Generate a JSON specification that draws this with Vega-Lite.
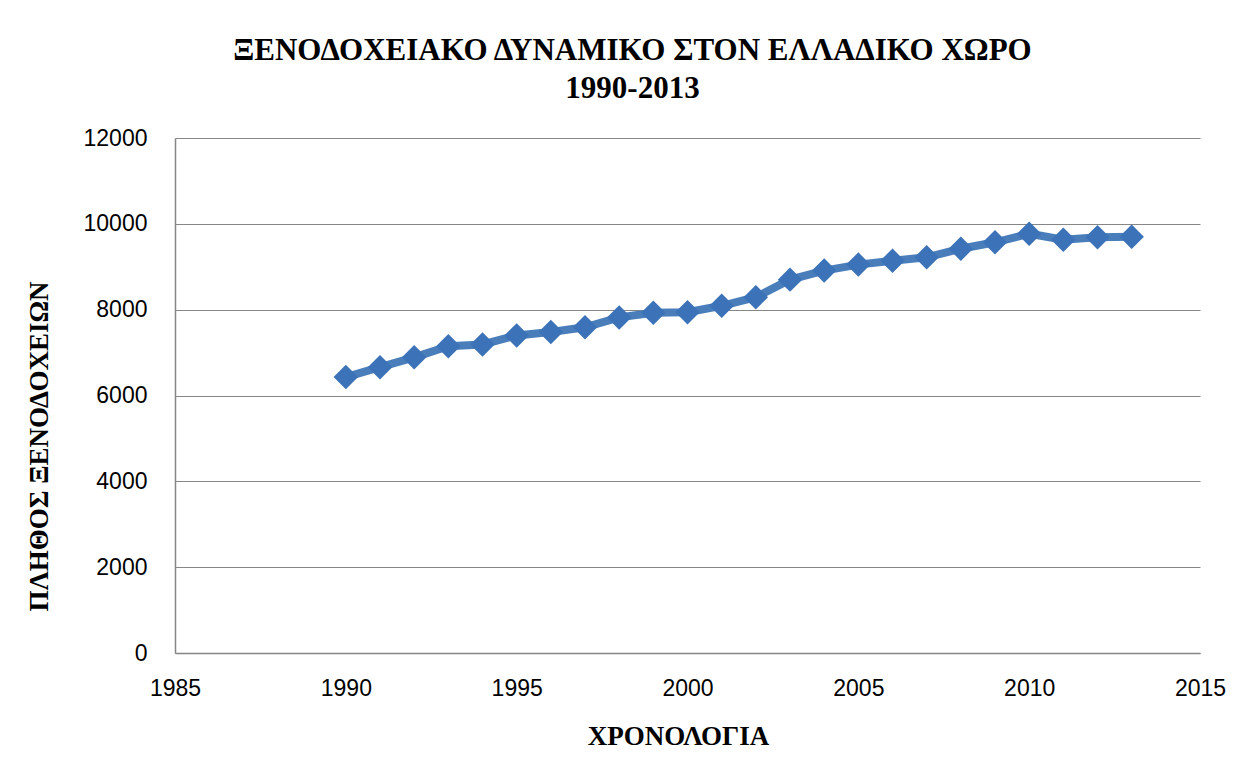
{
  "$schema": "https://vega.github.io/schema/vega-lite/v6.json",
  "width": 1025,
  "height": 515,
  "autosize": {"type": "none"},
  "padding": {"left": 175, "top": 138, "right": 47, "bottom": 116},
  "background": "white",
  "title": {
    "text": ["ΞΕΝΟΔΟΧΕΙΑΚΟ ΔΥΝΑΜΙΚΟ ΣΤΟΝ ΕΛΛΑΔΙΚΟ ΧΩΡΟ", "1990-2013"],
    "font": "Liberation Serif",
    "fontSize": 31,
    "fontWeight": "bold",
    "color": "black",
    "anchor": "middle",
    "dx": -55,
    "offset": 22,
    "lineHeight": 38
  },
  "data": {
    "values": [
      {"year": 1990, "hotels": 6430},
      {"year": 1991, "hotels": 6660},
      {"year": 1992, "hotels": 6890},
      {"year": 1993, "hotels": 7150},
      {"year": 1994, "hotels": 7190},
      {"year": 1995, "hotels": 7400},
      {"year": 1996, "hotels": 7480},
      {"year": 1997, "hotels": 7590},
      {"year": 1998, "hotels": 7820},
      {"year": 1999, "hotels": 7930},
      {"year": 2000, "hotels": 7940},
      {"year": 2001, "hotels": 8090},
      {"year": 2002, "hotels": 8290},
      {"year": 2003, "hotels": 8700},
      {"year": 2004, "hotels": 8910},
      {"year": 2005, "hotels": 9050},
      {"year": 2006, "hotels": 9140},
      {"year": 2007, "hotels": 9220},
      {"year": 2008, "hotels": 9420},
      {"year": 2009, "hotels": 9570},
      {"year": 2010, "hotels": 9770},
      {"year": 2011, "hotels": 9630},
      {"year": 2012, "hotels": 9690},
      {"year": 2013, "hotels": 9700}
    ]
  },
  "encoding": {
    "x": {
      "field": "year",
      "type": "quantitative",
      "scale": {"domain": [1985, 2015], "nice": false, "zero": false},
      "axis": {
        "title": "ΧΡΟΝΟΛΟΓΙΑ",
        "values": [1985, 1990, 1995, 2000, 2005, 2010, 2015],
        "format": "d",
        "grid": false,
        "ticks": false,
        "domainColor": "#868686",
        "domainWidth": 1.5,
        "labelFont": "Liberation Sans",
        "labelFontSize": 23,
        "labelColor": "black",
        "labelPadding": 24,
        "labelFlush": false,
        "titleFont": "Liberation Serif",
        "titleFontSize": 27,
        "titleFontWeight": "bold",
        "titleColor": "black",
        "titlePadding": 23,
        "titleX": 503
      }
    },
    "y": {
      "field": "hotels",
      "type": "quantitative",
      "scale": {"domain": [0, 12000], "nice": false},
      "axis": {
        "title": "ΠΛΗΘΟΣ ΞΕΝΟΔΟΧΕΙΩΝ",
        "values": [0, 2000, 4000, 6000, 8000, 10000, 12000],
        "format": "d",
        "grid": true,
        "gridColor": "#868686",
        "gridWidth": 1.2,
        "ticks": false,
        "domainColor": "#868686",
        "domainWidth": 1.5,
        "labelFont": "Liberation Sans",
        "labelFontSize": 23,
        "labelColor": "black",
        "labelPadding": 28,
        "titleFont": "Liberation Serif",
        "titleFontSize": 27,
        "titleFontWeight": "bold",
        "titleColor": "black",
        "titleX": -122,
        "titleY": 308
      }
    }
  },
  "layer": [
    {
      "mark": {"type": "line", "color": "#4a7ebb", "strokeWidth": 8}
    },
    {
      "mark": {"type": "point", "shape": "diamond", "filled": true, "color": "#3c72b7", "opacity": 1, "size": 600}
    }
  ],
  "config": {"view": {"stroke": null}}
}
